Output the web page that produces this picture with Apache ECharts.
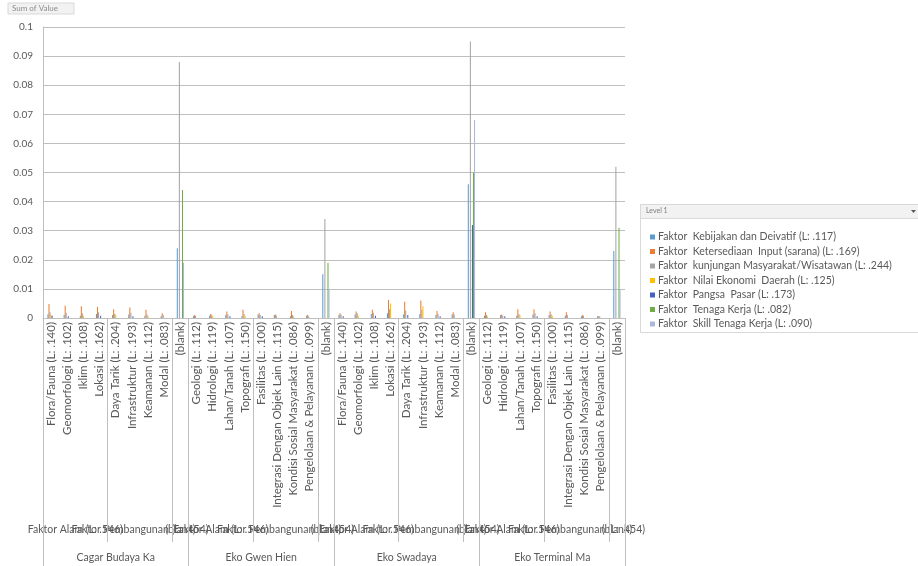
<!DOCTYPE html>
<html>
<head>
<meta charset="utf-8">
<script src="https://cdn.jsdelivr.net/npm/echarts@6/dist/echarts.min.js"></script>
<style>
  html, body { margin: 0; padding: 0; background: #fff; }
  #chart { width: 918px; height: 566px; }
</style>
</head>
<body>
<div id="chart"></div>
<script>
// leaf categories (level 3), 9 per destination
var leafLabels = [
  "Flora/Fauna (L: .140)", "Geomorfologi (L: .102)", "Iklim (L: .108)", "Lokasi (L: .162)",
  "Daya Tarik (L: .204)", "Infrastruktur (L: .193)", "Keamanan (L: .112)", "Modal (L: .083)", "(blank)",
  "Geologi (L: .112)", "Hidrologi (L: .119)", "Lahan/Tanah (L: .107)", "Topografi (L: .150)",
  "Fasilitas (L: .100)", "Integrasi Dengan Objek Lain (L: .115)", "Kondisi Sosial Masyarakat (L: .086)", "Pengelolaan & Pelayanan (L: .099)", "(blank)",
  "Flora/Fauna (L: .140)", "Geomorfologi (L: .102)", "Iklim (L: .108)", "Lokasi (L: .162)",
  "Daya Tarik (L: .204)", "Infrastruktur (L: .193)", "Keamanan (L: .112)", "Modal (L: .083)", "(blank)",
  "Geologi (L: .112)", "Hidrologi (L: .119)", "Lahan/Tanah (L: .107)", "Topografi (L: .150)",
  "Fasilitas (L: .100)", "Integrasi Dengan Objek Lain (L: .115)", "Kondisi Sosial Masyarakat (L: .086)", "Pengelolaan & Pelayanan (L: .099)", "(blank)"
];
// level 2 (sub groups) : label, size in leaves
var midLabels = ["Faktor Alam (L: .546)", "Faktor Pembangunan (L: .454)", "(blank)"];
var midSizes = [4, 4, 1];
// level 1 (destinations)
var groupLabels = ["Cagar Budaya Ka", "Eko Gwen Hien", "Eko Swadaya", "Eko Terminal Ma"];

var seriesNames = [
  "Faktor  Kebijakan dan Deivatif (L: .117)",
  "Faktor  Ketersediaan  Input (sarana) (L: .169)",
  "Faktor  kunjungan Masyarakat/Wisatawan (L: .244)",
  "Faktor  Nilai Ekonomi  Daerah (L: .125)",
  "Faktor  Pangsa  Pasar (L: .173)",
  "Faktor  Tenaga Kerja (L: .082)",
  "Faktor  Skill Tenaga Kerja (L: .090)"
];
var kebijakan = [
  0.0012, 0.0010, 0.0008, 0.0014, 0.0010, 0.0012, 0.0008, 0.0006, 0.024,
  0.0006, 0.0008, 0.0010, 0.0006, 0.0012, 0.0010, 0.0006, 0.0008, 0.015,
  0.0010, 0.0012, 0.0014, 0.0016, 0.0012, 0.0014, 0.0010, 0.0012, 0.046,
  0.0008, 0.0010, 0.0008, 0.0012, 0.0010, 0.0008, 0.0006, 0.0006, 0.023
];
var ketersediaan = [
  0.0048, 0.0042, 0.0040, 0.0038, 0.0030, 0.0036, 0.0028, 0.0016, 0,
  0.0010, 0.0014, 0.0022, 0.0028, 0.0016, 0.0012, 0.0024, 0.0010, 0,
  0.0016, 0.0022, 0.0028, 0.0062, 0.0056, 0.0060, 0.0024, 0.0020, 0,
  0.0020, 0.0012, 0.0030, 0.0030, 0.0022, 0.0020, 0.0010, 0.0006, 0
];
var kunjungan = [
  0.0020, 0.0018, 0.0016, 0.0020, 0.0014, 0.0018, 0.0012, 0.0010, 0.088,
  0.0008, 0.0010, 0.0012, 0.0014, 0.0010, 0.0008, 0.0010, 0.0006, 0.034,
  0.0012, 0.0016, 0.0018, 0.0030, 0.0026, 0.0028, 0.0014, 0.0012, 0.095,
  0.0010, 0.0008, 0.0014, 0.0016, 0.0012, 0.0010, 0.0008, 0.0006, 0.052
];
var nilaiEkonomi = [
  0.0010, 0, 0.0008, 0, 0.0012, 0, 0.0006, 0, 0,
  0, 0.0006, 0, 0.0008, 0, 0, 0.0006, 0, 0,
  0, 0.0008, 0, 0.0050, 0, 0.0040, 0, 0, 0,
  0.0006, 0, 0.0010, 0, 0.0008, 0, 0, 0, 0
];
var pangsaPasar = [
  0.0008, 0.0006, 0, 0.0008, 0, 0.0006, 0, 0, 0,
  0, 0, 0.0006, 0, 0.0006, 0, 0, 0, 0,
  0.0006, 0, 0.0008, 0, 0.0010, 0, 0.0006, 0, 0.032,
  0, 0.0006, 0, 0.0006, 0, 0, 0, 0, 0
];
var tenagaKerja = [
  0, 0, 0, 0, 0, 0, 0, 0, 0.044,
  0, 0, 0, 0, 0, 0, 0, 0, 0.019,
  0, 0, 0, 0, 0, 0, 0, 0, 0.050,
  0, 0, 0, 0, 0, 0, 0, 0, 0.031
];
var skillTenaga = [
  0, 0, 0, 0, 0, 0, 0, 0, 0.019,
  0, 0, 0, 0, 0, 0, 0, 0, 0.010,
  0, 0, 0, 0, 0, 0, 0, 0, 0.068,
  0, 0, 0, 0, 0, 0, 0, 0, 0.010
];
var seriesData = [kebijakan, ketersediaan, kunjungan, nilaiEkonomi, pangsaPasar, tenagaKerja, skillTenaga];
var colors = ["#5B9BD5", "#ED7D31", "#A5A5A5", "#FFC000", "#4460C8", "#70AD47", "#A9B8DC"];

var FONT = "Lato, 'Liberation Sans', sans-serif";
var TXT = "#595959";
var LINE = "#BFBFBF";

// positions of the level 2 and level 1 labels / separators on a 0..36 scale
var midTicks = [0], midPos = [], midNames = [];
var groupTicks = [0], groupPos = [], groupText = {};
var cursor = 0;
groupLabels.forEach(function (g) {
  var start = cursor;
  midSizes.forEach(function (n, k) {
    midPos.push(cursor + n / 2);
    midNames.push(midLabels[k]);
    cursor += n;
    midTicks.push(cursor);
  });
  groupPos.push((start + cursor) / 2);
  groupText[(start + cursor) / 2] = g;
  groupTicks.push(cursor);
});

var chart = echarts.init(document.getElementById("chart"));

var staticGraphics = [
  { type: "rect", shape: { x: 640.5, y: 204.5, width: 280, height: 128 }, style: { fill: "none", stroke: "#D9D9D9" } },
  { type: "rect", shape: { x: 640.5, y: 204.5, width: 280, height: 14 }, style: { fill: "#F2F2F2", stroke: "#D9D9D9" } },
  { type: "text", left: 646, top: 207, style: { text: "Level 1", fontSize: 7, fill: "#7F7F7F", fontFamily: FONT } },
  { type: "polygon", shape: { points: [[911, 210], [916, 210], [913.5, 213]] }, style: { fill: "#595959" } },
  { type: "rect", shape: { x: 8, y: 3, width: 66, height: 11 }, style: { fill: "#F2F2F2", stroke: "#D9D9D9" } },
  { type: "text", left: 12, top: 4, style: { text: "Sum of Value", fontSize: 8, fill: "#8C8C8C", fontFamily: FONT } }
];

chart.setOption({
  animation: false,
  textStyle: { fontFamily: FONT },
  color: colors,
  grid: { left: 43, right: 293, top: 27, bottom: 248 },
  legend: {
    orient: "vertical",
    left: 645,
    top: 226,
    itemWidth: 5,
    itemHeight: 5,
    itemGap: 2.5,
    icon: "rect",
    textStyle: { color: TXT, fontSize: 10.5, fontFamily: FONT, lineHeight: 12, padding: [0, 0, 0, -2] },
    data: seriesNames
  },
  graphic: staticGraphics,
  xAxis: [
    {
      type: "category",
      data: leafLabels,
      axisLine: { lineStyle: { color: LINE } },
      axisTick: { interval: 0, length: 198, lineStyle: { color: LINE } },
      axisLabel: { interval: 0, rotate: 90, margin: 4, fontSize: 11.5, color: TXT, fontFamily: FONT }
    },
    {
      type: "value",
      min: 0,
      max: 36,
      position: "bottom",
      splitLine: { show: false },
      axisLine: { show: false },
      axisTick: { show: true, customValues: midTicks, length: 224, lineStyle: { color: LINE } },
      axisLabel: { show: false }
    },
    {
      type: "value",
      min: 0,
      max: 36,
      position: "bottom",
      splitLine: { show: false },
      axisLine: { show: false },
      axisTick: { show: true, customValues: groupTicks, length: 250, lineStyle: { color: LINE } },
      axisLabel: {
        customValues: groupPos,
        margin: 234,
        fontSize: 10.5,
        color: TXT,
        fontFamily: FONT,
        formatter: function (v) { return groupText[v] || ""; }
      }
    }
  ],
  yAxis: {
    type: "value",
    min: 0,
    max: 0.1,
    interval: 0.01,
    axisLine: { show: true, lineStyle: { color: LINE } },
    axisTick: { show: false },
    axisLabel: { color: TXT, fontSize: 10, margin: 10, fontFamily: FONT },
    splitLine: { lineStyle: { color: "#BFBFBF" } }
  },
  series: seriesData.map(function (d, i) {
    return {
      name: seriesNames[i],
      type: "bar",
      xAxisIndex: 0,
      data: d,
      barGap: "0%",
      barCategoryGap: "55%",
      itemStyle: { color: colors[i] }
    };
  })
});

// level 2 labels overlap each other (as in the pivot chart), place them through the axis scale
var axisY = chart.convertToPixel({ yAxisIndex: 0 }, 0);
var midGraphics = midPos.map(function (p, i) {
  var x = chart.convertToPixel({ xAxisIndex: 1 }, p);
  return {
    type: "text",
    x: x,
    y: axisY + 212,
    style: { text: midNames[i], fontSize: 10.5, fill: TXT, fontFamily: FONT, align: "center", verticalAlign: "middle" }
  };
});
chart.setOption({ graphic: staticGraphics.concat(midGraphics) });
</script>
</body>
</html>
